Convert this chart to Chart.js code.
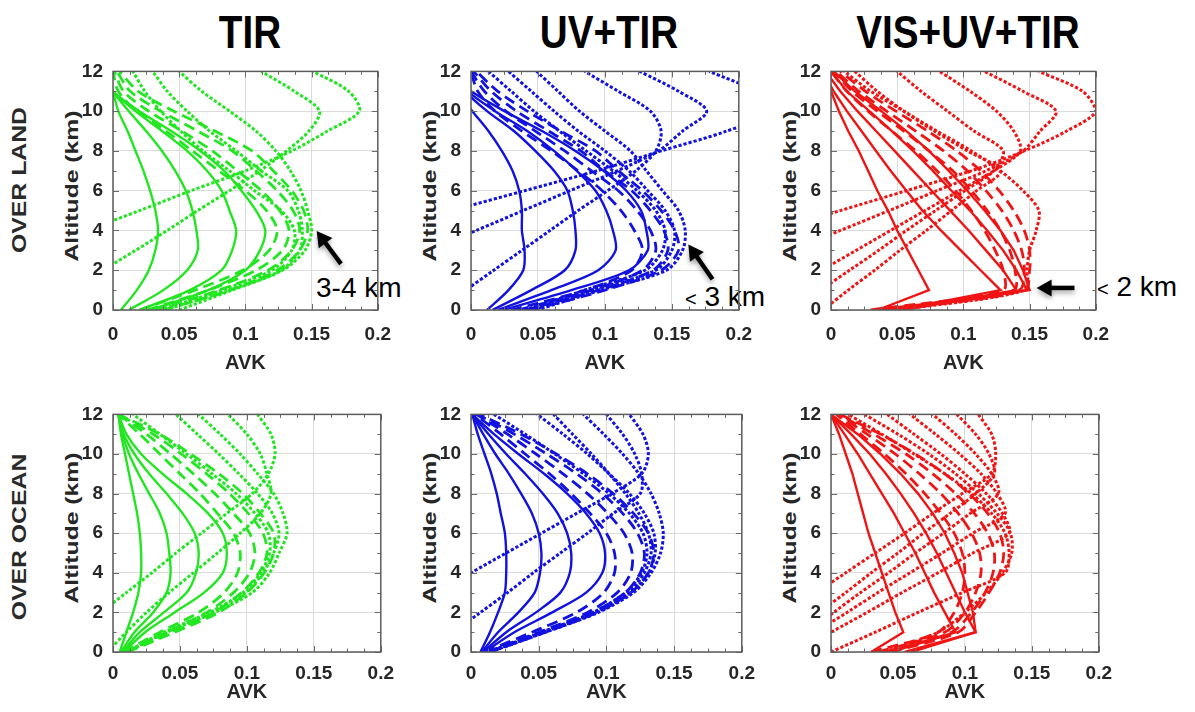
<!DOCTYPE html>
<html><head><meta charset="utf-8">
<script src="https://cdn.jsdelivr.net/npm/chart.js@4.4.1/dist/chart.umd.min.js"></script>
<style>
html,body{margin:0;padding:0;background:#fff;width:1195px;height:712px;overflow:hidden;position:relative;font-family:"Liberation Sans",Arial,sans-serif;}
canvas{position:absolute;}
.title{position:absolute;top:7px;font-weight:bold;font-size:46px;line-height:50px;color:#000;transform:translateX(-50%) scaleX(0.84);white-space:nowrap;}
.rowlab{position:absolute;font-weight:bold;font-size:21px;line-height:24px;color:#2a2a2a;white-space:nowrap;transform:translate(-50%,-50%) rotate(-90deg) scaleX(1.18);}
.ytitle{position:absolute;font-weight:bold;font-size:19px;line-height:22px;color:#262626;white-space:nowrap;transform:translate(-50%,-50%) rotate(-90deg) scaleX(1.3);}
.note{position:absolute;font-size:28px;line-height:28px;color:#000;white-space:nowrap;}
</style></head><body>
<div class="title" style="left:250px">TIR</div>
<div class="title" style="left:609px">UV+TIR</div>
<div class="title" style="left:968px">VIS+UV+TIR</div>
<div class="rowlab" style="left:19px;top:180px">OVER LAND</div>
<div class="rowlab" style="left:19px;top:537px">OVER OCEAN</div>
<div class="ytitle" style="left:72px;top:186px">Altitude (km)</div>
<div class="ytitle" style="left:430px;top:186px">Altitude (km)</div>
<div class="ytitle" style="left:790px;top:186px">Altitude (km)</div>
<div class="ytitle" style="left:72px;top:528px">Altitude (km)</div>
<div class="ytitle" style="left:430px;top:528px">Altitude (km)</div>
<div class="ytitle" style="left:790px;top:528px">Altitude (km)</div>
<div class="note" style="left:316px;top:274px">3-4 km</div>
<div class="note" style="left:685px;top:283px"><span style="font-size:20px">&lt;</span> 3 km</div>
<div class="note" style="left:1097px;top:273px"><span style="font-size:20px">&lt;</span> 2 km</div>
<canvas id="c00"></canvas><canvas id="c01"></canvas><canvas id="c02"></canvas>
<canvas id="c10"></canvas><canvas id="c11"></canvas><canvas id="c12"></canvas>
<script>
// ---------- data: altitude levels (km) and AVK values per level ----------
const ALT = [0,1,2,3,4,5,6,7,8,9,10,11,12];
const X_TICK_LABELS = [0, 0.05, 0.1, 0.15, 0.2];
const Y_TICK_LABELS = [0, 2, 4, 6, 8, 10, 12];

// OVER LAND – TIR
const landTIR_solid = [
  [0.006,0.018,0.027,0.032,0.034,0.032,0.028,0.023,0.017,0.011,0.004,0.000,-0.004],
  [0.012,0.038,0.056,0.064,0.063,0.060,0.055,0.047,0.037,0.025,0.012,0.000,-0.006],
  [0.020,0.058,0.082,0.090,0.093,0.088,0.082,0.071,0.056,0.037,0.017,0.000,-0.008],
  [0.028,0.072,0.100,0.111,0.115,0.108,0.097,0.084,0.066,0.044,0.020,0.000,-0.010]];
const landTIR_dash = [
  [0.020,0.062,0.098,0.118,0.124,0.116,0.100,0.080,0.060,0.040,0.018,0.004,0.000],
  [0.026,0.072,0.108,0.128,0.133,0.126,0.112,0.094,0.075,0.052,0.027,0.008,0.001],
  [0.032,0.080,0.117,0.135,0.141,0.136,0.124,0.108,0.090,0.064,0.036,0.013,0.003],
  [0.038,0.088,0.124,0.141,0.147,0.144,0.135,0.121,0.105,0.077,0.046,0.019,0.005]];
const landTIR_dot = [
  [-0.200,-0.150,-0.100,-0.060,-0.020,0.020,0.059,0.100,0.135,0.162,0.186,0.178,0.151],
  [-0.060,-0.035,-0.008,0.017,0.041,0.064,0.088,0.111,0.131,0.148,0.156,0.137,0.112],
  [0.050,0.090,0.128,0.145,0.150,0.147,0.142,0.134,0.123,0.108,0.088,0.067,0.050],
  [0.039,0.088,0.127,0.141,0.143,0.140,0.132,0.112,0.093,0.073,0.056,0.041,0.030],
  [0.035,0.082,0.120,0.135,0.137,0.127,0.107,0.088,0.068,0.051,0.036,0.024,0.015]];

// OVER LAND – UV+TIR
const landUV_solid = [
  [0.012,0.028,0.039,0.040,0.038,0.038,0.036,0.031,0.023,0.013,0.001,-0.010,-0.020],
  [0.016,0.045,0.070,0.078,0.078,0.076,0.072,0.062,0.048,0.032,0.012,-0.005,-0.020],
  [0.020,0.060,0.095,0.108,0.106,0.101,0.093,0.079,0.062,0.042,0.018,-0.003,-0.020],
  [0.024,0.075,0.118,0.132,0.131,0.127,0.116,0.099,0.078,0.053,0.025,0.000,-0.020]];
const landUV_dash = [
  [0.030,0.085,0.120,0.128,0.122,0.112,0.098,0.080,0.060,0.038,0.018,0.005,0.000],
  [0.035,0.090,0.128,0.138,0.134,0.124,0.110,0.090,0.070,0.048,0.026,0.010,0.000],
  [0.040,0.095,0.136,0.147,0.144,0.134,0.120,0.100,0.082,0.058,0.034,0.015,0.002],
  [0.045,0.100,0.142,0.155,0.152,0.142,0.128,0.110,0.093,0.067,0.042,0.020,0.004]];
const landUV_dot = [
  [-0.250,-0.200,-0.150,-0.110,-0.065,-0.014,0.040,0.094,0.142,0.191,0.225,0.212,0.178],
  [-0.100,-0.080,-0.060,-0.030,0.004,0.039,0.074,0.109,0.140,0.158,0.176,0.155,0.126],
  [-0.025,-0.004,0.017,0.038,0.059,0.080,0.102,0.123,0.138,0.142,0.134,0.110,0.085],
  [0.049,0.097,0.146,0.158,0.160,0.155,0.143,0.131,0.119,0.100,0.081,0.065,0.049],
  [0.045,0.090,0.138,0.150,0.152,0.145,0.132,0.118,0.100,0.080,0.062,0.045,0.028],
  [0.040,0.085,0.130,0.143,0.145,0.138,0.124,0.106,0.086,0.066,0.047,0.030,0.013]];

// OVER LAND – VIS+UV+TIR
const landVIS_solid = [
  [0.035,0.074,0.066,0.058,0.050,0.043,0.035,0.028,0.021,0.013,0.006,0.000,-0.006],
  [0.050,0.128,0.113,0.098,0.083,0.069,0.057,0.045,0.034,0.023,0.012,0.002,-0.006],
  [0.055,0.140,0.130,0.117,0.104,0.090,0.076,0.062,0.048,0.034,0.020,0.007,-0.004],
  [0.045,0.148,0.140,0.130,0.118,0.105,0.091,0.077,0.062,0.046,0.029,0.012,0.000],
  [0.040,0.150,0.145,0.138,0.128,0.116,0.103,0.089,0.074,0.057,0.038,0.018,0.002]];
const landVIS_dash = [
  [0.030,0.130,0.130,0.124,0.116,0.106,0.094,0.080,0.064,0.046,0.028,0.012,0.000],
  [0.035,0.138,0.139,0.135,0.128,0.118,0.106,0.092,0.074,0.055,0.035,0.016,0.002],
  [0.040,0.142,0.146,0.144,0.138,0.129,0.117,0.103,0.085,0.064,0.042,0.021,0.004],
  [0.045,0.146,0.150,0.150,0.146,0.138,0.127,0.113,0.095,0.073,0.049,0.026,0.007]];
const landVIS_dot = [
  [-0.200,-0.170,-0.130,-0.090,-0.042,0.007,0.057,0.106,0.146,0.178,0.200,0.190,0.157],
  [-0.140,-0.100,-0.066,-0.030,0.007,0.044,0.080,0.117,0.145,0.158,0.170,0.145,0.116],
  [-0.060,-0.033,-0.007,0.019,0.045,0.071,0.097,0.123,0.143,0.138,0.125,0.105,0.082],
  [-0.030,-0.008,0.014,0.036,0.057,0.079,0.101,0.123,0.130,0.108,0.088,0.068,0.050],
  [-0.006,0.013,0.033,0.052,0.072,0.091,0.110,0.128,0.103,0.078,0.055,0.035,0.018],
  [0.050,0.147,0.148,0.150,0.155,0.157,0.145,0.128,0.106,0.080,0.055,0.030,0.010]];

// OVER OCEAN – TIR
const oceanTIR_solid = [
  [0.005,0.010,0.015,0.019,0.021,0.021,0.020,0.018,0.015,0.012,0.009,0.006,0.004],
  [0.006,0.016,0.030,0.040,0.043,0.042,0.040,0.035,0.027,0.019,0.012,0.007,0.004],
  [0.007,0.020,0.038,0.055,0.062,0.064,0.061,0.052,0.040,0.027,0.016,0.008,0.004],
  [0.008,0.024,0.046,0.068,0.082,0.085,0.082,0.071,0.055,0.037,0.021,0.010,0.004]];
const oceanTIR_dash = [
  [0.008,0.035,0.064,0.083,0.093,0.095,0.090,0.078,0.065,0.050,0.035,0.020,0.004],
  [0.009,0.040,0.070,0.090,0.102,0.106,0.102,0.090,0.076,0.060,0.043,0.025,0.004],
  [0.010,0.043,0.075,0.096,0.109,0.115,0.112,0.101,0.087,0.070,0.051,0.030,0.004],
  [0.011,0.046,0.079,0.100,0.113,0.120,0.120,0.110,0.097,0.079,0.058,0.035,0.004]];
const oceanTIR_dot = [
  [-0.040,-0.027,-0.009,0.010,0.029,0.047,0.066,0.085,0.104,0.116,0.121,0.118,0.108],
  [-0.004,0.010,0.025,0.042,0.060,0.078,0.095,0.110,0.118,0.115,0.110,0.100,0.086],
  [0.010,0.040,0.076,0.104,0.117,0.124,0.130,0.127,0.120,0.108,0.095,0.080,0.064],
  [0.010,0.040,0.074,0.099,0.112,0.120,0.124,0.119,0.108,0.094,0.079,0.063,0.047],
  [0.010,0.038,0.072,0.097,0.110,0.117,0.116,0.106,0.092,0.074,0.055,0.035,0.015]];

// OVER OCEAN – UV+TIR
const oceanUV_solid = [
  [0.007,0.014,0.020,0.025,0.026,0.026,0.025,0.022,0.019,0.015,0.010,0.005,0.001],
  [0.008,0.020,0.035,0.047,0.051,0.052,0.050,0.045,0.037,0.028,0.018,0.009,0.001],
  [0.009,0.026,0.048,0.066,0.073,0.074,0.071,0.064,0.053,0.040,0.026,0.013,0.001],
  [0.010,0.032,0.060,0.085,0.097,0.099,0.095,0.085,0.071,0.054,0.035,0.017,0.001]];
const oceanUV_dash = [
  [0.010,0.045,0.078,0.098,0.106,0.106,0.100,0.088,0.074,0.058,0.040,0.022,0.003],
  [0.012,0.050,0.086,0.108,0.118,0.119,0.113,0.101,0.086,0.068,0.048,0.027,0.004],
  [0.013,0.053,0.090,0.114,0.125,0.128,0.123,0.112,0.097,0.078,0.056,0.032,0.005],
  [0.014,0.055,0.093,0.118,0.131,0.135,0.131,0.120,0.105,0.086,0.063,0.037,0.006]];
const oceanUV_dot = [
  [-0.100,-0.078,-0.052,-0.026,0.000,0.026,0.052,0.078,0.104,0.126,0.131,0.127,0.117],
  [-0.033,-0.013,0.007,0.027,0.046,0.066,0.086,0.105,0.125,0.126,0.121,0.112,0.100],
  [0.014,0.055,0.094,0.120,0.133,0.140,0.142,0.139,0.133,0.124,0.112,0.098,0.083],
  [0.013,0.053,0.091,0.116,0.128,0.133,0.131,0.124,0.114,0.102,0.089,0.075,0.061],
  [0.013,0.054,0.092,0.118,0.131,0.136,0.135,0.128,0.117,0.102,0.086,0.068,0.049],
  [0.013,0.052,0.090,0.114,0.126,0.130,0.127,0.117,0.102,0.083,0.062,0.040,0.017]];

// OVER OCEAN – VIS+UV+TIR
const oceanVIS_solid = [
  [0.030,0.054,0.048,0.043,0.038,0.033,0.028,0.024,0.020,0.016,0.011,0.006,0.000],
  [0.045,0.093,0.085,0.077,0.070,0.063,0.055,0.047,0.038,0.029,0.020,0.010,0.000],
  [0.055,0.108,0.100,0.093,0.086,0.079,0.071,0.062,0.052,0.041,0.029,0.015,0.000],
  [0.060,0.108,0.106,0.102,0.098,0.092,0.085,0.076,0.065,0.052,0.037,0.020,0.000]];
const oceanVIS_dash = [
  [0.030,0.080,0.092,0.098,0.100,0.098,0.092,0.082,0.070,0.056,0.040,0.022,0.004],
  [0.035,0.085,0.100,0.108,0.112,0.111,0.105,0.095,0.082,0.066,0.048,0.027,0.005],
  [0.040,0.090,0.105,0.115,0.121,0.122,0.117,0.107,0.093,0.076,0.056,0.032,0.006],
  [0.045,0.095,0.108,0.118,0.126,0.129,0.126,0.117,0.103,0.085,0.063,0.037,0.007]];
const oceanVIS_dot = [
  [-0.077,-0.055,-0.033,-0.011,0.011,0.033,0.055,0.076,0.098,0.120,0.123,0.120,0.110],
  [-0.048,-0.029,-0.009,0.011,0.030,0.050,0.069,0.089,0.108,0.122,0.118,0.108,0.094],
  [-0.038,-0.018,0.002,0.022,0.043,0.063,0.084,0.104,0.125,0.120,0.108,0.093,0.076],
  [-0.035,-0.012,0.012,0.035,0.059,0.083,0.106,0.130,0.124,0.112,0.096,0.078,0.059],
  [-0.027,0.000,0.027,0.053,0.080,0.106,0.133,0.128,0.116,0.100,0.082,0.062,0.042],
  [0.040,0.080,0.100,0.116,0.128,0.135,0.134,0.124,0.110,0.093,0.073,0.050,0.025],
  [0.000,0.033,0.065,0.098,0.130,0.133,0.130,0.120,0.105,0.085,0.062,0.038,0.013]];

// ---------- styling / layout ----------
const GREEN = '#22e622', BLUE = '#1212e0', RED = '#f01515';
const STYLE = {
  solid: {dash: [], w: 2.4},
  dash:  {dash: [11, 6], w: 2.8},
  dot:   {dash: [3.2, 2], w: 3}
};
const COLS = [[113, 386], [471, 747], [831, 1104]];
const ROWS = [[62, 310], [405, 652]];
const FONT = 'Liberation Sans';
const TXT = '#262626';

Chart.defaults.font.family = FONT;

const framePlugin = {
  id: 'frame',
  afterDatasetsDraw(chart, args, o) {
    const {ctx, chartArea: a, scales: {x, y}} = chart;
    ctx.save();
    ctx.strokeStyle = '#6a6a6a';
    ctx.lineWidth = 1;
    ctx.beginPath();
    const xStep = (X_TICK_LABELS[1] - X_TICK_LABELS[0]) / 4;
    const nx = Math.round((x.max - x.min) / xStep);
    for (let k = 0; k <= nx; k++) {
      const px = Math.round(x.getPixelForValue(x.min + k * xStep)) + 0.5;
      const len = k % 4 === 0 ? 6 : 3.5;
      ctx.moveTo(px, a.bottom); ctx.lineTo(px, a.bottom - len);
      ctx.moveTo(px, a.top); ctx.lineTo(px, a.top + len);
    }
    const yStep = (Y_TICK_LABELS[1] - Y_TICK_LABELS[0]) / 2;
    const ny = Math.round((y.max - y.min) / yStep);
    for (let k = 0; k <= ny; k++) {
      const py = Math.round(y.getPixelForValue(y.min + k * yStep)) + 0.5;
      const len = k % 2 === 0 ? 6 : 3.5;
      ctx.moveTo(a.left, py); ctx.lineTo(a.left + len, py);
      ctx.moveTo(a.right, py); ctx.lineTo(a.right - len, py);
    }
    ctx.stroke();
    ctx.strokeStyle = '#5c5c5c';
    ctx.lineWidth = 1.5;
    ctx.strokeRect(a.left, a.top, a.width, a.height);
    if (o && o.arrow) {
      const x0 = x.getPixelForValue(o.arrow.from[0]), y0 = y.getPixelForValue(o.arrow.from[1]);
      const x1 = x.getPixelForValue(o.arrow.to[0]), y1 = y.getPixelForValue(o.arrow.to[1]);
      const ang = Math.atan2(y1 - y0, x1 - x0);
      const head = 15, hw = 8.5;
      const bx = x1 - head * Math.cos(ang), by = y1 - head * Math.sin(ang);
      ctx.shadowColor = 'rgba(0,0,0,0.35)'; ctx.shadowBlur = 5; ctx.shadowOffsetY = 3;
      ctx.strokeStyle = '#000'; ctx.fillStyle = '#000'; ctx.lineWidth = 4.5;
      ctx.beginPath(); ctx.moveTo(x0, y0); ctx.lineTo(bx + 2 * Math.cos(ang), by + 2 * Math.sin(ang)); ctx.stroke();
      ctx.beginPath(); ctx.moveTo(x1, y1);
      ctx.lineTo(bx + hw * Math.sin(ang), by - hw * Math.cos(ang));
      ctx.lineTo(bx - hw * Math.sin(ang), by + hw * Math.cos(ang));
      ctx.closePath(); ctx.fill();
    }
    ctx.restore();
  }
};

function panel(id, col, row, color, solid, dash, dot, arrow, solidTension) {
  const [L, R] = COLS[col], [T, B] = ROWS[row];
  const padL = 100, padT = 12, padR = 18, xh = row === 0 ? 66 : 60;
  const cv = document.getElementById(id);
  cv.width = padL + (R - L) + padR;
  cv.height = padT + (B - T) + xh;
  cv.style.left = (L - padL) + 'px';
  cv.style.top = (T - padT) + 'px';
  const datasets = [];
  const add = (curves, st, tension) => curves.forEach(vals => datasets.push({
    data: vals.map((v, i) => ({x: v, y: ALT[i]})),
    showLine: true, pointRadius: 0, borderColor: color, backgroundColor: color,
    borderWidth: st.w, borderDash: st.dash, tension: tension, fill: false
  }));
  add(dot, STYLE.dot, 0.3);
  add(dash, STYLE.dash, 0.3);
  add(solid, STYLE.solid, solidTension);
  const tickFont = {family: FONT, size: 19, weight: 'bold'};
  const titleFont = {family: FONT, size: 20, weight: 'bold'};
  new Chart(cv, {
    type: 'scatter',
    data: {datasets},
    options: {
      responsive: false, animation: false, devicePixelRatio: 1, events: [],
      layout: {padding: {left: 0, top: padT, right: padR, bottom: 0}},
      plugins: {legend: {display: false}, tooltip: {enabled: false}, frame: {arrow}},
      scales: {
        x: {
          type: 'linear', min: X_TICK_LABELS[0], max: X_TICK_LABELS[X_TICK_LABELS.length - 1],
          afterFit: s => { s.height = xh; },
          afterBuildTicks: s => { s.ticks = X_TICK_LABELS.map(v => ({value: v})); },
          ticks: {padding: row === 0 ? 13 : 10, color: TXT, font: tickFont, autoSkip: false, maxRotation: 0,
                  callback: v => String(+v.toFixed(2))},
          grid: {color: '#dcdcdc', lineWidth: 1, drawTicks: false},
          border: {display: false},
          title: {display: true, text: 'AVK', color: TXT, font: titleFont,
                  padding: {top: 0, bottom: row === 0 ? 1 : 8}}
        },
        y: {
          type: 'linear', min: Y_TICK_LABELS[0], max: Y_TICK_LABELS[Y_TICK_LABELS.length - 1],
          afterFit: s => { s.width = padL; },
          afterBuildTicks: s => { s.ticks = Y_TICK_LABELS.map(v => ({value: v})); },
          ticks: {padding: 10, color: TXT, font: tickFont, autoSkip: false},
          grid: {color: '#dcdcdc', lineWidth: 1, drawTicks: false},
          border: {display: false},
          title: {display: false}
        }
      }
    },
    plugins: [framePlugin]
  });
}

panel('c00', 0, 0, GREEN, landTIR_solid, landTIR_dash, landTIR_dot, {from: [0.1722, 2.32], to: [0.1538, 3.97]}, 0.3);
panel('c01', 1, 0, BLUE, landUV_solid, landUV_dash, landUV_dot, {from: [0.1804, 1.55], to: [0.1623, 3.29]}, 0.3);
panel('c02', 2, 0, RED, landVIS_solid, landVIS_dash, landVIS_dot, {from: [0.1839, 1.11], to: [0.1553, 1.11]}, 0);
panel('c10', 0, 1, GREEN, oceanTIR_solid, oceanTIR_dash, oceanTIR_dot, null, 0.3);
panel('c11', 1, 1, BLUE, oceanUV_solid, oceanUV_dash, oceanUV_dot, null, 0.3);
panel('c12', 2, 1, RED, oceanVIS_solid, oceanVIS_dash, oceanVIS_dot, null, 0);
</script>
</body></html>
